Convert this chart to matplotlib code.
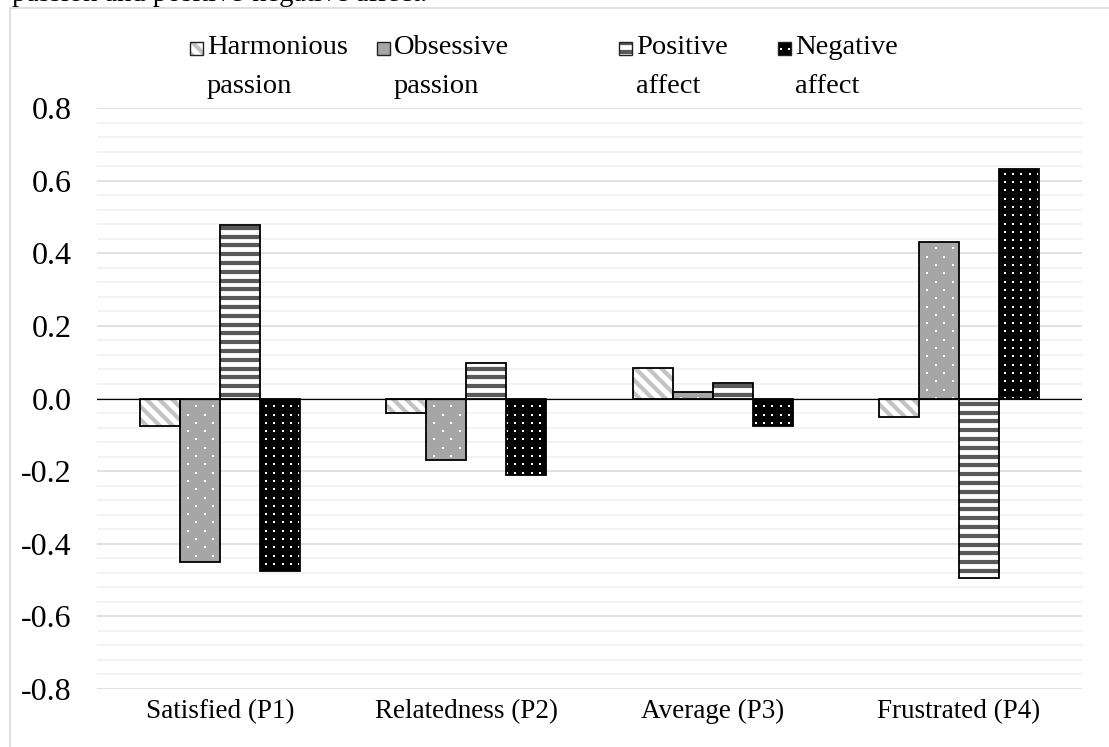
import numpy as np
import matplotlib
matplotlib.use("Agg")
import matplotlib.pyplot as plt
from matplotlib.patches import Rectangle
from matplotlib.lines import Line2D
from matplotlib.collections import LineCollection
from matplotlib.transforms import IdentityTransform
from matplotlib.ticker import FixedLocator, MultipleLocator

# ---- data -------------------------------------------------------------
categories = ["Satisfied (P1)", "Relatedness (P2)", "Average (P3)", "Frustrated (P4)"]
harmonious_passion = [-0.075, -0.040, 0.085, -0.050]
obsessive_passion = [-0.450, -0.168, 0.018, 0.432]
positive_affect = [0.477, 0.099, 0.042, -0.495]
negative_affect = [-0.475, -0.212, -0.077, 0.631]
series_labels = [("Harmonious", "passion"), ("Obsessive", "passion"),
                 ("Positive", "affect"), ("Negative", "affect")]
y_ticks = [-0.8, -0.6, -0.4, -0.2, 0.0, 0.2, 0.4, 0.6, 0.8]
y_tick_labels = ["-0.8", "-0.6", "-0.4", "-0.2", "0.0", "0.2", "0.4", "0.6", "0.8"]
caption = "passion and positive-negative affect."

# ---- styling ----------------------------------------------------------
W, H = 1109, 747
DPI = 100
PT = 72 / DPI  # points per pixel
plt.rcParams["font.family"] = ["Liberation Serif", "DejaVu Serif"]

styles = [
    dict(face="white", pattern="diag", pcolor="#c3c3c3"),
    dict(face="#a6a6a6", pattern="dots_sparse", pcolor="white"),
    dict(face="white", pattern="hstripe", pcolor="#595959"),
    dict(face="black", pattern="dots_grid", pcolor="white"),
]
series = [harmonious_passion, obsessive_passion, positive_affect, negative_affect]


def fx(px):
    return px / W


def fy(py):
    return 1 - py / H


def add_pattern(container, clip, box, kind, color, zorder):
    """Fill the pixel box (x0, y0, x1, y1 in display coords) with a fill
    pattern anchored to the page grid, clipped to the given patch."""
    x0, y0, x1, y1 = box
    x0, x1 = min(x0, x1), max(x0, x1)
    y0, y1 = min(y0, y1), max(y0, y1)
    if kind == "diag":
        step = 13.0
        c_lo = np.floor((x0 + y0) / step) - 1
        c_hi = np.ceil((x1 + y1) / step) + 1
        segs = []
        for k in np.arange(c_lo, c_hi + 1):
            c = k * step
            segs.append([(x0 - 10, c - (x0 - 10)), (x1 + 10, c - (x1 + 10))])
        art = LineCollection(segs, colors=color, linewidths=4.2 * PT,
                             transform=IdentityTransform(), zorder=zorder)
    elif kind == "hstripe":
        step = 8.8
        ks = np.arange(np.floor(y0 / step) - 1, np.ceil(y1 / step) + 2)
        segs = [[(x0 - 5, k * step), (x1 + 5, k * step)] for k in ks]
        art = LineCollection(segs, colors=color, linewidths=4.2 * PT,
                             transform=IdentityTransform(), zorder=zorder)
    else:
        if kind == "dots_grid":
            sx, sy, stagger = 8.3, 8.3, 0.0
        else:
            sx, sy, stagger = 17.0, 8.3, 8.5
        xs, ys = [], []
        for r in np.arange(np.floor(y0 / sy) - 1, np.ceil(y1 / sy) + 2):
            off = stagger if int(r) % 2 else 0.0
            for c in np.arange(np.floor(x0 / sx) - 2, np.ceil(x1 / sx) + 2):
                xs.append(c * sx + off + 0.5)
                ys.append(r * sy + 0.5)
        art = Line2D(xs, ys, linestyle="none", marker="s", markersize=2.2 * PT,
                     markerfacecolor=color, markeredgewidth=0,
                     transform=IdentityTransform(), zorder=zorder)
    container.add_artist(art)
    art.set_clip_path(clip)


fig = plt.figure(figsize=(W / DPI, H / DPI), dpi=DPI)
ax = fig.add_axes([fx(97), fy(689), fx(1082) - fx(97), fy(108) - fy(689)])

x = np.arange(len(categories))
bw = 40 / 246

ax.set_xlim(-0.5, len(categories) - 0.5)
ax.set_ylim(-0.8, 0.8)

for i, (vals, st) in enumerate(zip(series, styles)):
    pos = x + (i - 1.5) * bw
    bars = ax.bar(pos, vals, bw, color=st["face"], linewidth=0, zorder=2)
    for b in bars:
        corners = ax.transData.transform([(b.get_x(), b.get_y()),
                                          (b.get_x() + b.get_width(), b.get_y() + b.get_height())])
        add_pattern(ax, b, (*corners[0], *corners[1]), st["pattern"], st["pcolor"], 2.2)
    ax.bar(pos, vals, bw, fill=False, edgecolor="black", linewidth=1.3, zorder=3)

ax.axhline(0, color="black", linewidth=0.9, zorder=2.5)

ax.yaxis.set_major_locator(FixedLocator(y_ticks))
ax.set_yticklabels(y_tick_labels)
ax.yaxis.set_minor_locator(MultipleLocator(0.04))
ax.set_xticks(x)
ax.set_xticklabels(categories)

ax.grid(axis="y", which="major", color="#d9d9d9", linewidth=1.1)
ax.grid(axis="y", which="minor", color="#f0f0f0", linewidth=1.1)
ax.set_axisbelow(True)
for s in ax.spines.values():
    s.set_visible(False)
ax.tick_params(axis="y", which="both", length=0, labelsize=23, pad=18)
ax.tick_params(axis="x", which="both", length=0, labelsize=19.5, pad=7)

# ---- legend (row of patterned squares with two-line labels) ------------
handle_x = [190, 377, 619, 778]
for hx, st, (l1, l2) in zip(handle_x, styles, series_labels):
    sq = Rectangle((fx(hx), fy(55)), fx(13), 13 / H, transform=fig.transFigure,
                   facecolor=st["face"], linewidth=0, zorder=2)
    fig.add_artist(sq)
    add_pattern(fig, sq, (hx, H - 55, hx + 13, H - 42), st["pattern"], st["pcolor"], 2.2)
    fig.add_artist(Rectangle((fx(hx), fy(55)), fx(13), 13 / H, transform=fig.transFigure,
                             fill=False, edgecolor="#222222", linewidth=1.0, zorder=3))
    fig.text(fx(hx + 17), fy(54), l1, fontsize=20.5, va="baseline", ha="left")
    fig.text(fx(hx + 17), fy(93), l2, fontsize=20.5, va="baseline", ha="left")

# ---- frame and caption ------------------------------------------------
fig.add_artist(Rectangle((fx(10), -0.1), 1.2, fy(8) + 0.1, transform=fig.transFigure,
                         fill=False, edgecolor="#d9d9d9", linewidth=1.2))
fig.text(fx(12), fy(1), caption, fontsize=20.5, va="baseline", ha="left")

fig.savefig("out.png", dpi=DPI)
